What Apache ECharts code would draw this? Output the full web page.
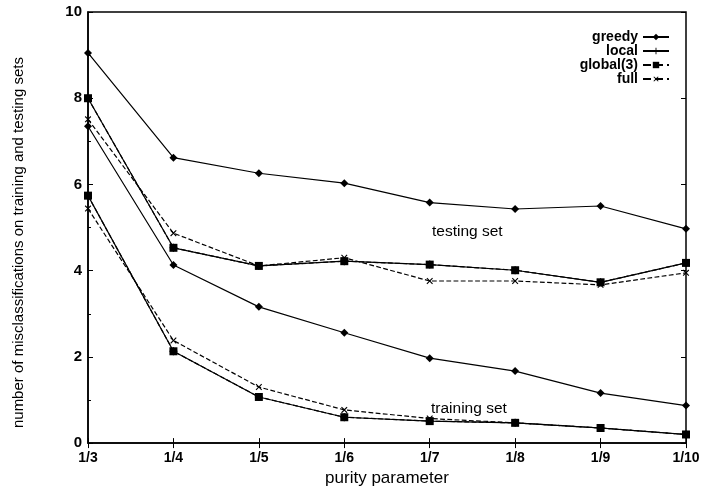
<!DOCTYPE html>
<html>
<head>
<meta charset="utf-8">
<script src="https://cdn.jsdelivr.net/npm/echarts@6/dist/echarts.min.js"></script>
<style>
  html, body { margin: 0; padding: 0; background: #fff; }
  #chart { width: 713px; height: 492px; }
</style>
</head>
<body>
<div id="chart"></div>
<script>
const categories = ['1/3', '1/4', '1/5', '1/6', '1/7', '1/8', '1/9', '1/10']
const yTicks = [0, 2, 4, 6, 8, 10]

// testing set
const greedyTest = [9.05, 6.62, 6.26, 6.03, 5.58, 5.43, 5.50, 4.97]
const localTest = [8.0, 4.53, 4.11, 4.22, 4.14, 4.01, 3.73, 4.18]
const globalTest = [8.0, 4.53, 4.11, 4.22, 4.14, 4.01, 3.73, 4.18]
const fullTest = [7.51, 4.87, 4.11, 4.30, 3.76, 3.76, 3.67, 3.95]

// training set
const greedyTrain = [7.35, 4.13, 3.16, 2.56, 1.97, 1.67, 1.16, 0.87]
const localTrain = [5.74, 2.13, 1.07, 0.60, 0.51, 0.47, 0.35, 0.20]
const globalTrain = [5.74, 2.13, 1.07, 0.60, 0.51, 0.47, 0.35, 0.20]
const fullTrain = [5.44, 2.38, 1.30, 0.77, 0.57, 0.47, 0.35, 0.20]

const FONT = 'Liberation Sans'
const PLUS = 'path://M4.3,0H5.7V4.3H10V5.7H5.7V10H4.3V5.7H0V4.3H4.3Z'

const styles = {
  'greedy': { symbol: 'diamond', symbolSize: 8, symbolRotate: 0, type: 'solid' },
  'local': { symbol: PLUS, symbolSize: 8, symbolRotate: 0, type: 'solid' },
  'global(3)': { symbol: 'rect', symbolSize: 8, symbolRotate: 0, type: 'dashed' },
  'full': { symbol: PLUS, symbolSize: 8, symbolRotate: 45, type: 'dashed' }
}

function mk(name, data) {
  const s = styles[name]
  return {
    name, type: 'line', data,
    symbol: s.symbol, symbolSize: s.symbolSize, symbolRotate: s.symbolRotate,
    showAllSymbol: true,
    lineStyle: { color: '#000', width: 1.2, type: s.type },
    itemStyle: { color: '#000', borderWidth: 0 },
    emphasis: { disabled: true },
    z: 3
  }
}

const chart = echarts.init(document.getElementById('chart'))

chart.setOption({
  backgroundColor: '#fff',
  animation: false,
  textStyle: { fontFamily: FONT, color: '#000' },
  grid: { left: 88, right: 27, top: 12, bottom: 39, show: true, borderColor: '#000', borderWidth: 1.5 },
  legend: {
    orient: 'vertical', right: 38, top: 25,
    align: 'right', itemGap: 0, itemWidth: 26, itemHeight: 8,
    data: ['greedy', 'local', 'global(3)', 'full'],
    textStyle: { fontFamily: FONT, fontSize: 14, fontWeight: 'bold', color: '#000', lineHeight: 13 },
    selectedMode: false
  },
  xAxis: [{
    type: 'category', data: categories, boundaryGap: false,
    name: 'purity parameter', nameLocation: 'middle', nameGap: 22,
    nameTextStyle: { fontFamily: FONT, fontSize: 17, color: '#000', verticalAlign: 'top' },
    axisLine: { lineStyle: { color: '#000', width: 1.5 } },
    axisTick: { inside: true, length: 5, lineStyle: { color: '#000' } },
    axisLabel: { fontFamily: FONT, fontSize: 14, fontWeight: 'bold', color: '#000', margin: 8 },
    splitLine: { show: false }
  }, {
    type: 'category', data: categories, boundaryGap: false, position: 'top',
    axisLine: { show: false },
    axisTick: { inside: true, length: 5, lineStyle: { color: '#000' } },
    axisLabel: { show: false }, splitLine: { show: false }
  }],
  yAxis: [{
    type: 'value', min: 0, max: 10, interval: 2,
    name: 'number of misclassifications on training and testing sets',
    nameLocation: 'middle', nameGap: 62,
    // padding on the right of the rotated text pushes it down on screen
    nameTextStyle: { fontFamily: FONT, fontSize: 15, color: '#000', padding: [0, 30, 0, 0] },
    axisLine: { show: true, lineStyle: { color: '#000', width: 1.5 } },
    axisTick: { show: true, inside: true, length: 5, lineStyle: { color: '#000' } },
    minorTick: { show: true, splitNumber: 2, length: 3, lineStyle: { color: '#000' } },
    axisLabel: {
      fontFamily: FONT, fontSize: 15, fontWeight: 'bold', color: '#000', margin: 6,
      formatter: v => yTicks.includes(v) ? String(v) : ''
    },
    splitLine: { show: false }
  }, {
    type: 'value', min: 0, max: 10, interval: 2, position: 'right',
    axisLine: { show: false },
    axisTick: { show: true, inside: true, length: 5, lineStyle: { color: '#000' } },
    axisLabel: { show: false }, splitLine: { show: false }
  }],
  graphic: [
    { type: 'text', left: 432, top: 224, style: { text: 'testing set', font: '15.5px "Liberation Sans"', fill: '#000' } },
    { type: 'text', left: 431, top: 401, style: { text: 'training set', font: '15.5px "Liberation Sans"', fill: '#000' } }
  ],
  series: [
    mk('greedy', greedyTest), mk('local', localTest), mk('global(3)', globalTest), mk('full', fullTest),
    mk('greedy', greedyTrain), mk('local', localTrain), mk('global(3)', globalTrain), mk('full', fullTrain)
  ]
})
</script>
</body>
</html>
